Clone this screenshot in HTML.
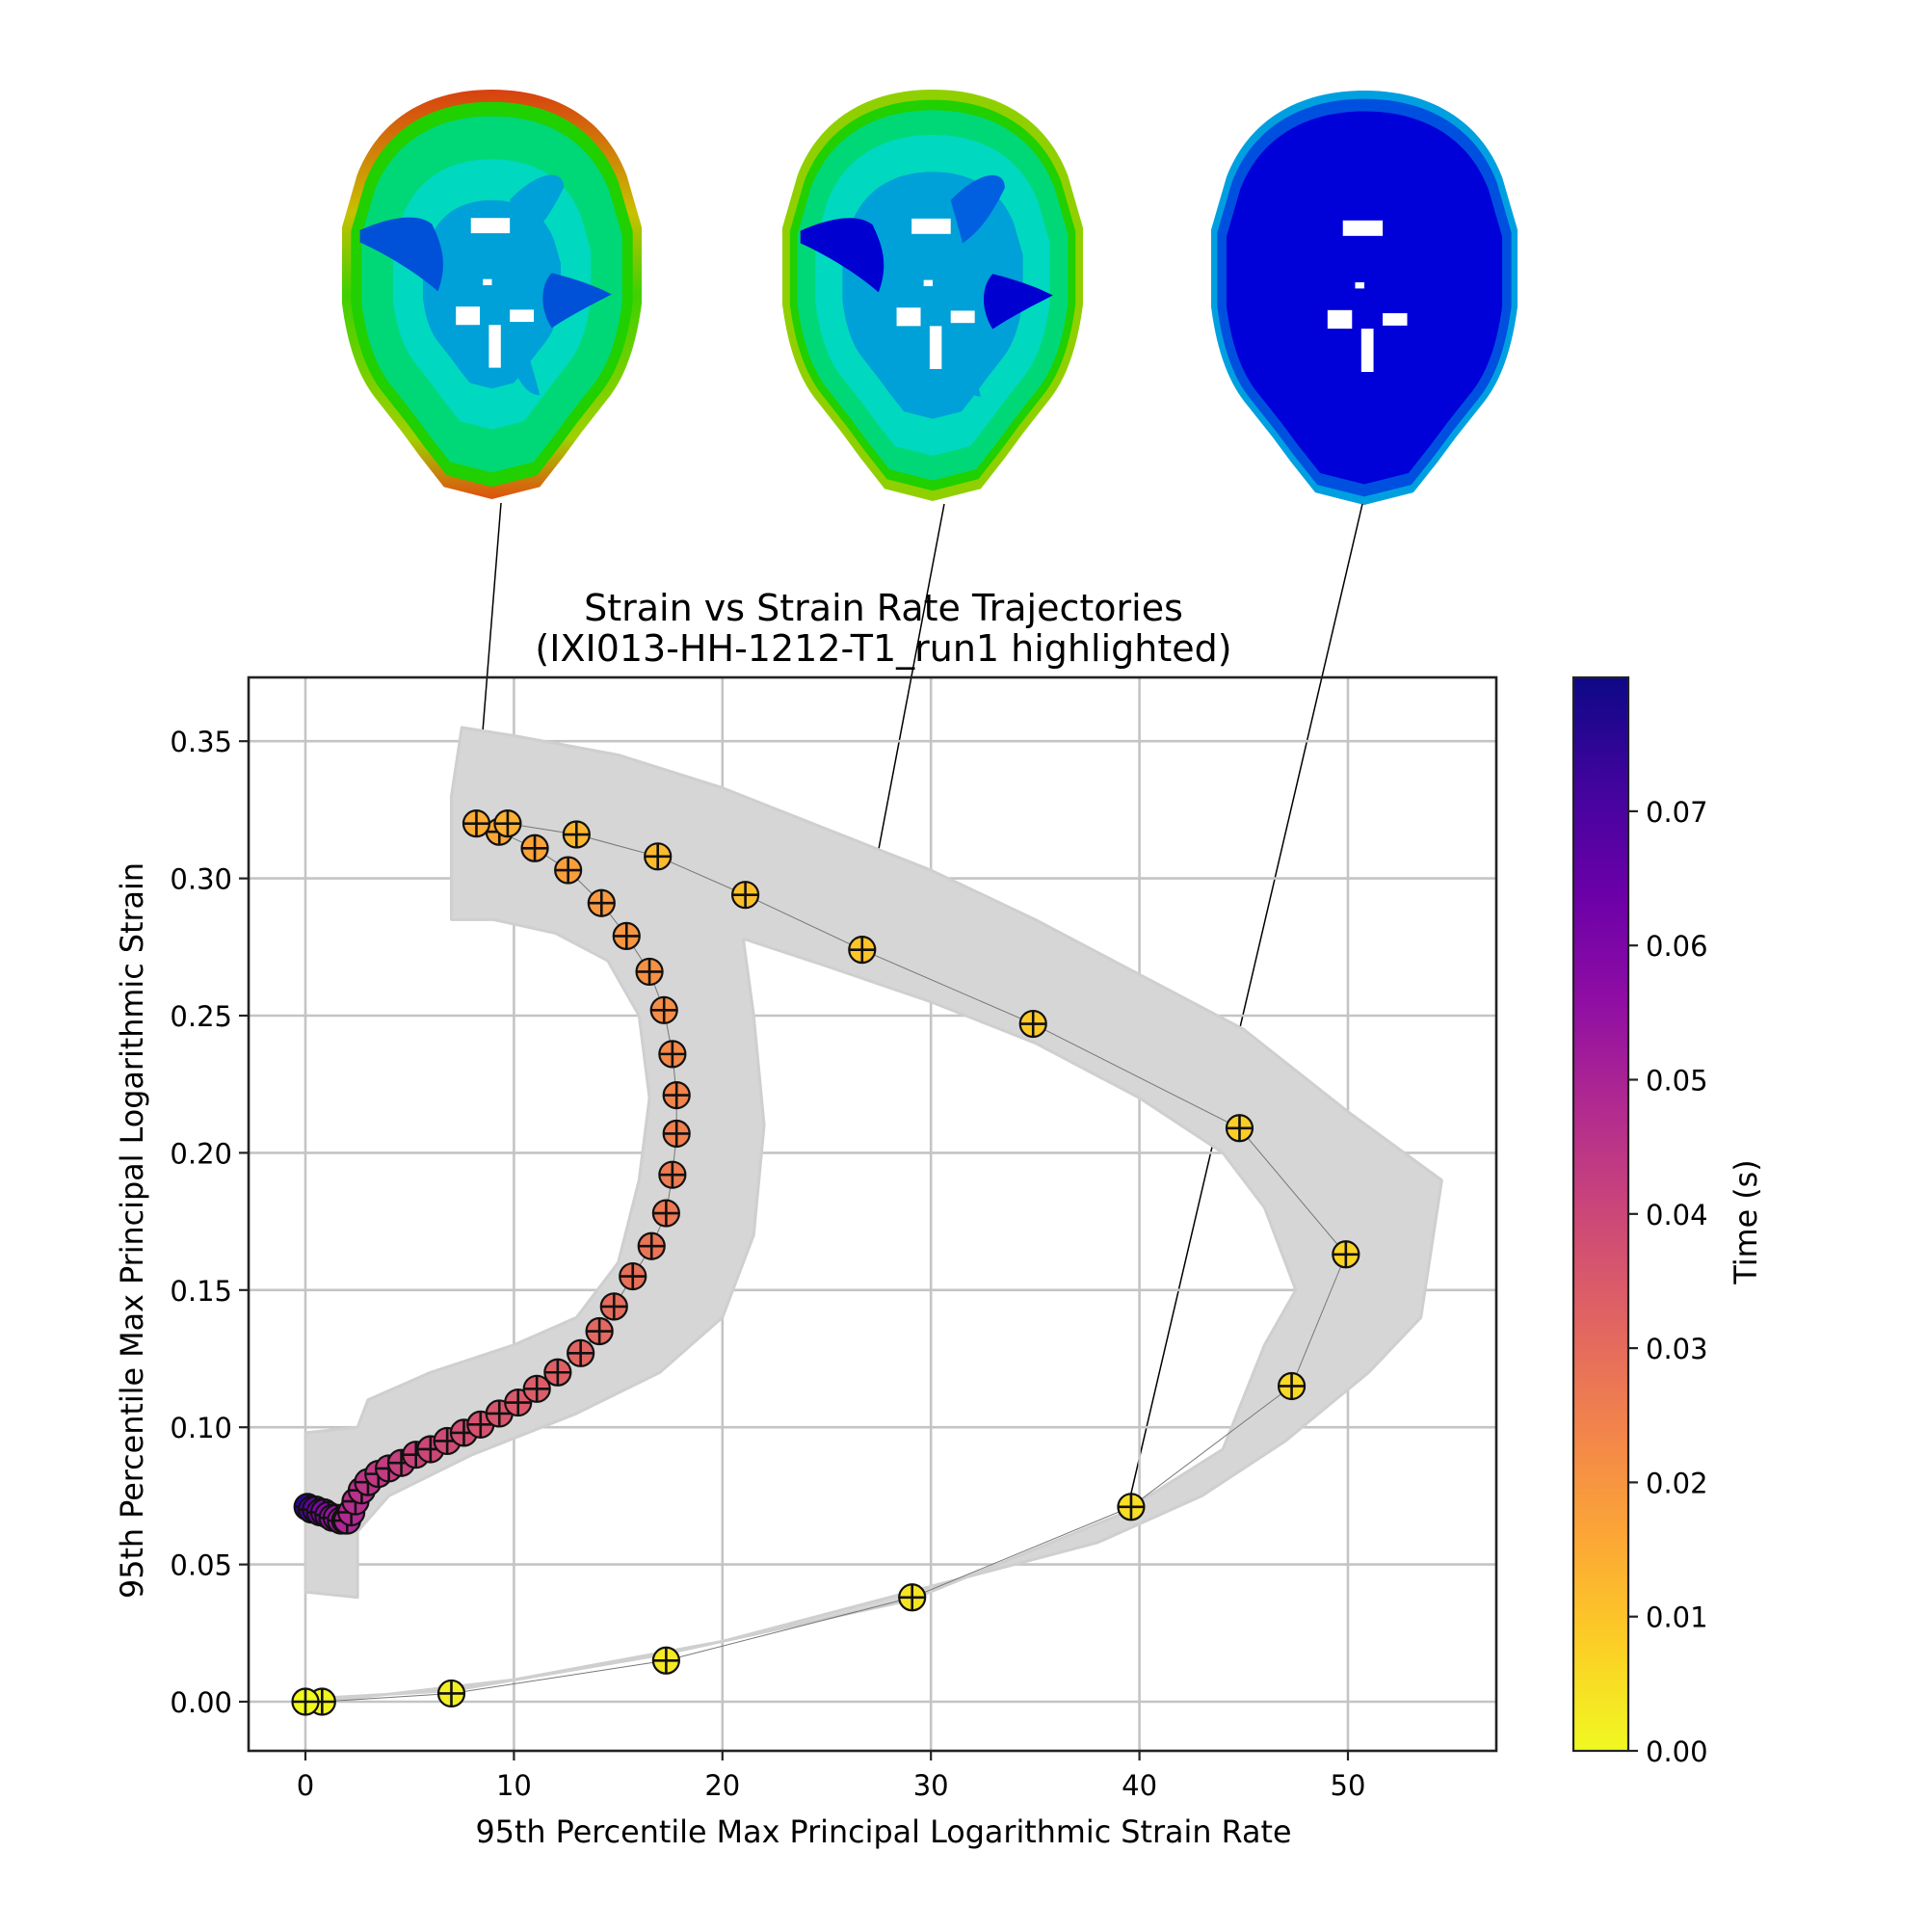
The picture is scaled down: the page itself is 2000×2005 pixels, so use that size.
<!DOCTYPE html>
<html><head><meta charset="utf-8"><style>
html,body{margin:0;padding:0;background:#fff}
svg text{font-family:"DejaVu Sans","Liberation Sans",sans-serif;fill:#000}
</style></head><body>
<svg id="fig" width="2000" height="2000" viewBox="0 0 2000 2000" xmlns="http://www.w3.org/2000/svg">
<defs>
<linearGradient id="cbgrad" x1="0" y1="1" x2="0" y2="0">
<stop offset="0" stop-color="#f0f921"/><stop offset="0.1" stop-color="#fcce25"/><stop offset="0.2" stop-color="#fca636"/><stop offset="0.3" stop-color="#f2844b"/><stop offset="0.4" stop-color="#e16462"/><stop offset="0.5" stop-color="#cc4778"/><stop offset="0.6" stop-color="#b12a90"/><stop offset="0.7" stop-color="#8f0da4"/><stop offset="0.8" stop-color="#6a00a8"/><stop offset="0.9" stop-color="#41049d"/><stop offset="1" stop-color="#0d0887"/>
</linearGradient>
<linearGradient id="edge1" x1="0" y1="0" x2="0" y2="1">
<stop offset="0" stop-color="#d84010"/><stop offset="0.3" stop-color="#c8c000"/><stop offset="0.5" stop-color="#40d000"/><stop offset="0.85" stop-color="#a0d000"/><stop offset="1" stop-color="#e05010"/>
</linearGradient>
<path id="brainOutline" d="M50,0 C72,0 88,10 95,28 L100,45 L100,70 C98,85 94,95 88,102 L80,112 L74,120 L66,130 L50,134 L34,130 L26,120 L20,112 L12,102 C6,95 2,85 0,70 L0,45 L5,28 C12,10 28,0 50,0Z"/>
</defs>
<g id="brains"></g>
<g id="connectors"></g>
<g id="plot"></g>
<g id="cbar"></g>
<text x="917" y="644" font-size="38" text-anchor="middle">Strain vs Strain Rate Trajectories</text>
<text x="917" y="686" font-size="38" text-anchor="middle">(IXI013-HH-1212-T1_run1 highlighted)</text>
<text x="917" y="1912" font-size="31.8" text-anchor="middle">95th Percentile Max Principal Logarithmic Strain Rate</text>
<text x="148" y="1277" font-size="31.8" text-anchor="middle" transform="rotate(-90 148 1277)">95th Percentile Max Principal Logarithmic Strain</text>
<text x="1823" y="1268" font-size="31.8" text-anchor="middle" transform="rotate(-90 1823 1268)">Time (s)</text>
</svg>
<script>
// ---- data ----
const xTicks = [0, 10, 20, 30, 40, 50];
const yTicks = [0.00, 0.05, 0.10, 0.15, 0.20, 0.25, 0.30, 0.35];
const yTickLabels = ["0.00","0.05","0.10","0.15","0.20","0.25","0.30","0.35"];
const cbTicks = [0.00,0.01,0.02,0.03,0.04,0.05,0.06,0.07];
const cbTickLabels = ["0.00","0.01","0.02","0.03","0.04","0.05","0.06","0.07"];
const hlRate = [0,0.8,7,17.3,29.1,39.6,47.3,49.9,44.8,34.9,26.7,21.1,16.9,13,9.7,8.2,9.3,11,12.6,14.2,15.4,16.5,17.2,17.6,17.8,17.8,17.6,17.3,16.6,15.7,14.8,14.1,13.2,12.1,11.1,10.2,9.3,8.4,7.6,6.8,6.0,5.3,4.6,4.0,3.5,3.0,2.7,2.4,2.2,2.0,1.9,1.7,1.5,1.3,1.1,0.9,0.7,0.5,0.3,0.1];
const hlStrain = [0,0,0.003,0.015,0.038,0.071,0.115,0.163,0.209,0.247,0.274,0.294,0.308,0.316,0.320,0.320,0.317,0.311,0.303,0.291,0.279,0.266,0.252,0.236,0.221,0.207,0.192,0.178,0.166,0.155,0.144,0.135,0.127,0.120,0.114,0.109,0.105,0.101,0.098,0.095,0.092,0.090,0.087,0.085,0.083,0.080,0.077,0.073,0.069,0.066,0.066,0.066,0.067,0.067,0.068,0.069,0.069,0.070,0.070,0.071];
const hlTime = [0.000,0.001,0.002,0.003,0.004,0.005,0.006,0.007,0.008,0.009,0.010,0.011,0.012,0.013,0.014,0.015,0.016,0.017,0.018,0.019,0.020,0.021,0.022,0.023,0.024,0.025,0.026,0.027,0.028,0.029,0.030,0.031,0.032,0.033,0.034,0.035,0.036,0.037,0.038,0.039,0.040,0.041,0.042,0.043,0.044,0.045,0.046,0.047,0.048,0.049,0.050,0.052,0.054,0.056,0.058,0.060,0.063,0.066,0.070,0.075];
const bundleRate = [7.5,10,15,20,25,30,35,40,45,50,54.5,53.5,51,47,43,38,30,20,10,2,0,0,7,17,29,39,44,46,47.5,46,44,40,35,30,25,21,21.5,22,21.5,20,17,13,8,4,2.5,2.5,0,0,2.5,3,6,10,13,15,16,16.5,16,14.5,12,9,7,7];
const bundleStrain = [0.355,0.352,0.345,0.333,0.318,0.303,0.285,0.265,0.245,0.215,0.19,0.14,0.12,0.095,0.075,0.058,0.042,0.022,0.008,0.001,-0.001,0.001,0.004,0.017,0.037,0.068,0.092,0.13,0.15,0.18,0.2,0.22,0.24,0.255,0.268,0.278,0.25,0.21,0.17,0.14,0.12,0.105,0.09,0.075,0.062,0.038,0.04,0.098,0.1,0.11,0.12,0.13,0.14,0.16,0.19,0.22,0.25,0.27,0.28,0.285,0.285,0.33];
const linkIndex = [15, 10, 5];
const linkFrom = [[520,522],[980,523],[1414,523]];

// ---- scales ----
const AX = {l:258, r:1553, t:703, b:1817};
const X = v => 317 + v*21.64;
const Y = v => 1766 - v*2848;
const CBT = {l:1633, r:1690, t:703, b:1817};
const CY = v => 1817 - v*13930;
const NS = "http://www.w3.org/2000/svg";
function mk(tag, attrs, parent){const e=document.createElementNS(NS,tag);for(const k in attrs)e.setAttribute(k,attrs[k]);parent.appendChild(e);return e;}
const stops=[[0,"#f0f921"],[0.1,"#fcce25"],[0.2,"#fca636"],[0.3,"#f2844b"],[0.4,"#e16462"],[0.5,"#cc4778"],[0.6,"#b12a90"],[0.7,"#8f0da4"],[0.8,"#6a00a8"],[0.9,"#41049d"],[1,"#0d0887"]];
function hex(c){return [1,3,5].map(i=>parseInt(c.substr(i,2),16));}
function cmap(t){t=Math.max(0,Math.min(1,t/0.08));for(let i=0;i<stops.length-1;i++){if(t<=stops[i+1][0]){const f=(t-stops[i][0])/(stops[i+1][0]-stops[i][0]);const a=hex(stops[i][1]),b=hex(stops[i+1][1]);return "rgb("+a.map((v,j)=>Math.round(v+(b[j]-v)*f)).join(",")+")";}}return stops[10][1];}

const plot=document.getElementById('plot');
xTicks.forEach(v=>{const l=mk('line',{x1:X(v),x2:X(v),y1:AX.t,y2:AX.b,stroke:'#c4c4c4','stroke-width':2.6},plot);

});
yTicks.forEach(v=>{const l=mk('line',{x1:AX.l,x2:AX.r,y1:Y(v),y2:Y(v),stroke:'#c4c4c4','stroke-width':2.6},plot);

});
const bp=mk('polygon',{points:bundleRate.map((r,i)=>X(r)+','+Y(bundleStrain[i])).join(' '),fill:'#d6d6d6',stroke:'#cfcfcf','stroke-width':3,'stroke-linejoin':'round'},plot);


const hl=mk('polyline',{points:hlRate.map((r,i)=>X(r)+','+Y(hlStrain[i])).join(' '),fill:'none',stroke:'#777','stroke-width':1},plot);


for(let i=hlRate.length-1;i>=0;i--){
 const g=mk('g',{},plot);
 
 
 const cx=X(hlRate[i]),cy=Y(hlStrain[i]);
 mk('circle',{cx:cx,cy:cy,r:13.5,fill:cmap(hlTime[i]),stroke:'#111','stroke-width':2.2},g);
 mk('path',{d:`M${cx-13.5},${cy}H${cx+13.5}M${cx},${cy-13.5}V${cy+13.5}`,stroke:'#111','stroke-width':2.6},g);
}
const fr=mk('rect',{x:AX.l,y:AX.t,width:AX.r-AX.l,height:AX.b-AX.t,fill:'none',stroke:'#222','stroke-width':2.6},plot);


xTicks.forEach(v=>{mk('line',{x1:X(v),x2:X(v),y1:AX.b,y2:AX.b+10,stroke:'#222','stroke-width':2.2},plot);
const t=mk('text',{x:X(v),y:AX.b+46,'font-size':29,'text-anchor':'middle'},plot);t.textContent=v;

});
yTicks.forEach((v,i)=>{mk('line',{x1:AX.l-10,x2:AX.l,y1:Y(v),y2:Y(v),stroke:'#222','stroke-width':2.2},plot);
const t=mk('text',{x:AX.l-17,y:Y(v)+11,'font-size':29,'text-anchor':'end'},plot);t.textContent=yTickLabels[i];

});
const cb=document.getElementById('cbar');
mk('rect',{x:CBT.l,y:CBT.t,width:CBT.r-CBT.l,height:CBT.b-CBT.t,fill:'url(#cbgrad)',stroke:'#222','stroke-width':2.2},cb);
cbTicks.forEach((v,i)=>{mk('line',{x1:CBT.r,x2:CBT.r+10,y1:CY(v),y2:CY(v),stroke:'#222','stroke-width':2.2},cb);
const t=mk('text',{x:CBT.r+18,y:CY(v)+11,'font-size':29},cb);t.textContent=cbTickLabels[i];

});
const con=document.getElementById('connectors');
linkIndex.forEach((k,i)=>{const l=mk('line',{x1:linkFrom[i][0],y1:linkFrom[i][1],x2:X(hlRate[k]),y2:Y(hlStrain[k])-14,stroke:'#000','stroke-width':1.5},con);

});
const br=document.getElementById('brains');
const brainBoxes=[[355,93,311,425],[812,93,312,427],[1257,94,318,430]];
const layers=[
 [["url(#edge1)",1],["#20d000",0.94],["#00d878",0.87],["#00d8c0",0.66],["#00a0d8",0.46]],
 [["#90d000",1],["#20d000",0.95],["#00d878",0.9],["#00d8c0",0.78],["#00a0d8",0.6]],
 [["#00a0e0",1],["#0050e0",0.96],["#0000d8",0.9]]
];
brainBoxes.forEach((b,i)=>{
 const g=mk('g',{transform:`translate(${b[0]},${b[1]}) scale(${b[2]/100},${b[3]/134})`},br);
 
 
 layers[i].forEach(([c,s])=>{mk('use',{href:'#brainOutline',fill:c,transform:`translate(${50-50*s},${67-67*s}) scale(${s})`},g);});
 if(i<2){
  const dk=i?'#0000d0':'#0050d8';
  mk('path',{d:'M6,46 C15,42 25,40 30,44 C34,52 35,58 32,66 C25,60 15,54 6,50Z',fill:dk},g);
  mk('path',{d:'M70,60 C78,62 84,64 90,67 C84,70 76,74 70,78 C66,72 66,64 70,60Z',fill:dk},g);
  mk('path',{d:'M56,36 C66,26 74,26 74,32 C70,40 66,46 60,50Z',fill:i?'#0060e0':'#00a0d8'},g);
  mk('path',{d:'M56,68 C60,80 64,92 66,100 C60,100 56,90 52,78Z',fill:'#00a0d8'},g);
 }
 mk('rect',{x:43,y:42,width:13,height:5,fill:'#fff'},g);
 mk('rect',{x:47,y:62,width:3,height:2,fill:'#fff'},g);
 mk('rect',{x:38,y:71,width:8,height:6,fill:'#fff'},g);
 mk('rect',{x:56,y:72,width:8,height:4,fill:'#fff'},g);
 mk('rect',{x:49,y:77,width:4,height:14,fill:'#fff'},g);
});
</script>
</body></html>
